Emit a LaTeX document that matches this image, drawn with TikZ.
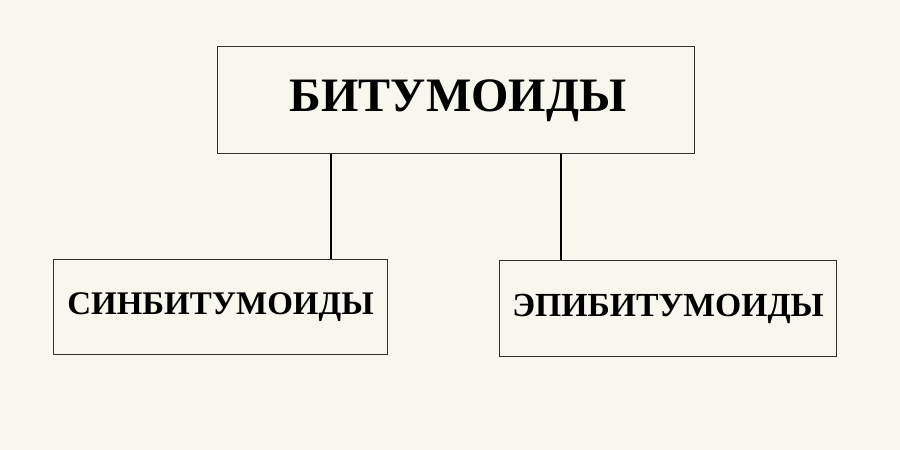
\documentclass[tikz,border=0pt]{standalone}
\usepackage{fontspec}
\setmainfont{Liberation Serif}
\definecolor{bg}{HTML}{F8F7EE}
\definecolor{edge}{HTML}{303030}
\begin{document}
\begin{tikzpicture}[x=1pt,y=-1pt,
  box/.style={draw=edge,line width=1pt,fill=bg,inner sep=0pt,anchor=north west,font=\bfseries},
  link/.style={draw=black,line width=2pt}]
\fill[bg] (0,0) rectangle (900,450);
\useasboundingbox (0,0) rectangle (900,450);
\node[box,minimum width=477pt,minimum height=107pt] (top) at (217,46) {};
\node[font=\bfseries\fontsize{48}{48}\selectfont,inner sep=0pt] (toptext) at ([xshift=2pt,yshift=-0.5pt]top.center) {БИТУМОИДЫ};
\node[box,minimum width=334pt,minimum height=95pt,font=\bfseries\fontsize{33}{33}\selectfont] (left) at (53,259) {СИНБИТУМОИДЫ};
\node[box,minimum width=337pt,minimum height=96pt,font=\bfseries\fontsize{33.7}{33.7}\selectfont] (right) at (499,260) {ЭПИБИТУМОИДЫ};
\draw[link] ([xshift=114pt]top.south west) -- ([xshift=278pt]left.north west);
\draw[link] ([xshift=344pt]top.south west) -- ([xshift=62pt]right.north west);
\end{tikzpicture}
\end{document}
